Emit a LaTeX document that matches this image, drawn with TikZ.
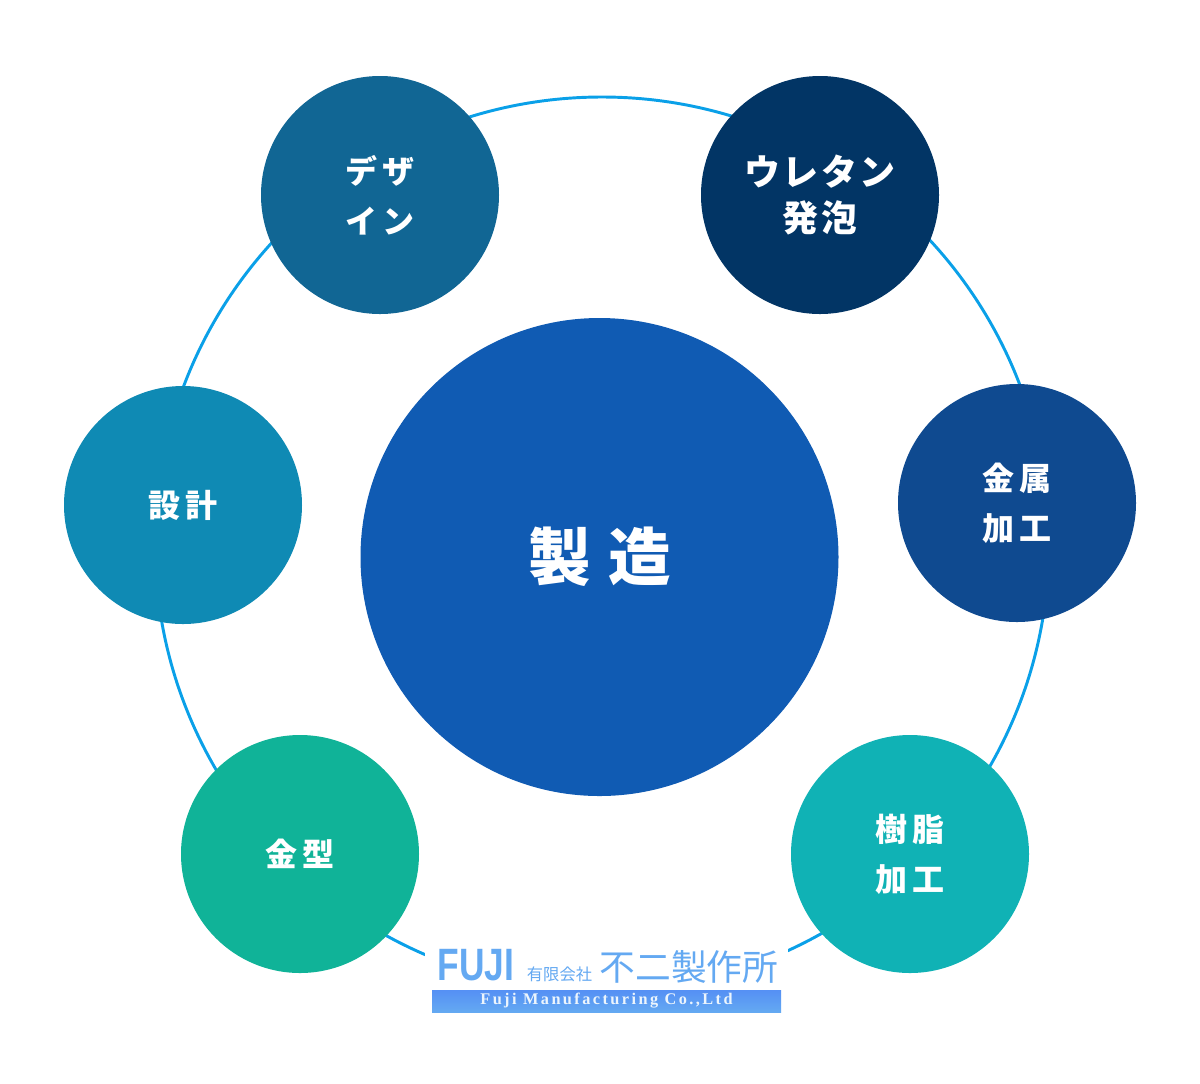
\documentclass[tikz,border=0pt]{standalone}
\usepackage{fontspec}
\usepackage{xcolor}
\newfontfamily\jpfont[LetterSpace=18]{Noto Sans CJK JP}
\newfontfamily\jpwide[LetterSpace=6]{Noto Sans CJK JP}
\newfontfamily\jpmain[LetterSpace=28]{Noto Sans CJK JP}
\newfontfamily\jplogo{Noto Sans CJK JP}
\newfontfamily\latinlogo[LetterSpace=15]{Liberation Serif}
\newfontfamily\fujilogo{Liberation Sans}
\definecolor{ringblue}{HTML}{0AA0E8}
\definecolor{maincol}{HTML}{105BB3}
\definecolor{designcol}{HTML}{116694}
\definecolor{foamcol}{HTML}{023565}
\definecolor{metalcol}{HTML}{0F4A90}
\definecolor{plancol}{HTML}{0F8AB4}
\definecolor{moldcol}{HTML}{10B398}
\definecolor{resincol}{HTML}{10B2B5}
\definecolor{logoblue}{HTML}{64A9F2}

\begin{document}
\begin{tikzpicture}[x=0.75pt, y=-0.75pt]

\tikzstyle{ringline} = [circle, draw=ringblue, line width=2.2pt, inner sep=0pt,
                        minimum size=670.5pt]
\tikzstyle{ball}     = [circle, inner sep=0pt, minimum size=178.5pt, text=white,
                        align=center, font=\jpfont\bfseries\fontsize{24}{37.5}\selectfont]
\tikzstyle{logotext} = [inner sep=0pt, text=logoblue]

\useasboundingbox (0,0) rectangle (1200,1083);

% ── Ring behind the circles ──────────────────────
\node[ringline] (ring) at (602,544) {};

% ── Centre ───────────────────────────────────────
\node[ball, fill=maincol, minimum size=358.5pt,
      font=\jpmain\bfseries\fontsize{47}{47}\selectfont] (seizou) at (599.5,557) {製造};

% ── Circles round the ring ───────────────────────
\node[ball, fill=designcol] (design) at (380,195)  {デザ\\イン};
\node[ball, fill=foamcol, font=\jpwide\bfseries\fontsize{27}{34}\selectfont]
     (foam)   at (820,195)  {ウレタン\\発泡};
\node[ball, fill=metalcol]  (metal)  at (1017,503) {金属\\加工};
\node[ball, fill=resincol]  (resin)  at (910,854)  {樹脂\\加工};
\node[ball, fill=moldcol]   (mold)   at (300,854)  {金型};
\node[ball, fill=plancol]   (plan)   at (183,505)  {設計};

% ── Logo ─────────────────────────────────────────
\node[fill=white, inner sep=0pt, minimum width=272.25pt, minimum height=58.5pt]
     (logobox) at (606.5,977) {};
\node[inner sep=0pt, minimum width=261.75pt, minimum height=16.5pt,
      top color=logoblue!85!blue, bottom color=logoblue, text=white!88!logoblue,
      font=\latinlogo\bfseries\fontsize{12.2}{12.2}\selectfont]
     (logobar) at (606.5,1001) {Fuji Manufacturing Co.,Ltd};
\node[logotext, xscale=0.78, font=\fujilogo\bfseries\fontsize{34}{34}\selectfont]
     (logofuji) at (476,965) {FUJI};
\node[logotext, font=\jplogo\fontsize{12.2}{12.2}\selectfont]
     (logokind) at (559.5,974) {有限会社};
\node[logotext, font=\jplogo\fontsize{26.8}{26.8}\selectfont]
     (logoname) at (689,967) {不二製作所};

\end{tikzpicture}
\end{document}
